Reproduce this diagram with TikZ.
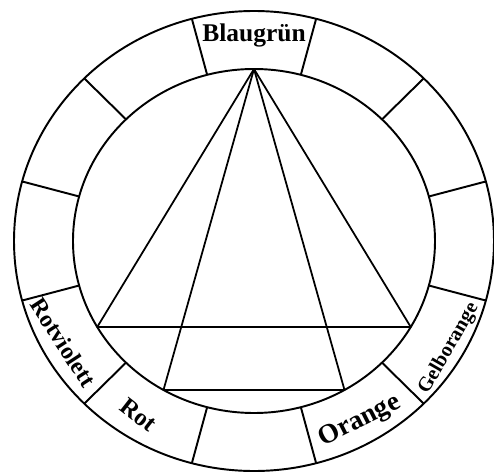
\documentclass[tikz,border=0pt]{standalone}
\usepackage{fontspec}
\setmainfont{Liberation Serif}
\usepackage{tikz}

\begin{document}
\begin{tikzpicture}[x=0.02cm, y=0.02cm,
    ring/.style={draw, line width=1.1pt},
    tri/.style={draw, line width=1pt, line join=round},
    lbl/.style={font=\bfseries\fontsize{#1}{#1}\selectfont, inner sep=0pt}]
  \useasboundingbox (-254,-233) rectangle (240,241);

  % --- Ring: outer and inner border, 12 fields ---
  \draw[ring] (0,0) ellipse [x radius=240, y radius=230];
  \draw[ring] (0,0) ellipse [x radius=181, y radius=172];
  \foreach \a in {15,45,...,345}
    \draw[ring] (\a:181 and 172) -- (\a:240 and 230);

  % --- Points on the inner circle ---
  \coordinate (top) at (90:181 and 172);
  \coordinate (rv) at (210:181 and 172);
  \coordinate (ro) at (240:181 and 172);
  \coordinate (or) at (300:181 and 172);
  \coordinate (go) at (330:181 and 172);

  % --- Triangles from Blaugruen ---
  \draw[tri] (rv) -- (top) -- (go) -- cycle;
  \draw[tri] (ro) -- (top) -- (or) -- cycle;

  % --- Labels in the ring ---
  \node[lbl=14.5] (blau) at (90:200 and 206) {Blaugrün};
  \node[lbl=13.5, rotate=-57] (rotv) at (208:216 and 216) {Rotviolett};
  \node[lbl=14, rotate=-38] (rot) at (237:212 and 207) {Rot};
  \node[lbl=15.5, rotate=27] (oran) at (300:212 and 208) {Orange};
  \node[lbl=11.5, rotate=60] (gelb) at (330:225 and 215) {Gelborange};
\end{tikzpicture}
\end{document}
